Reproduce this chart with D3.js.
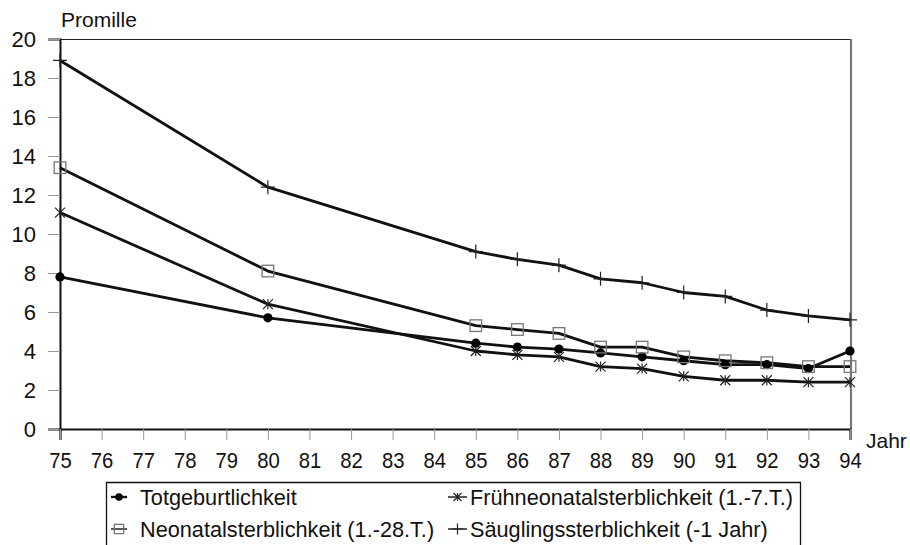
<!DOCTYPE html>
<html>
<head>
<meta charset="utf-8">
<script src="https://cdn.jsdelivr.net/npm/d3@7"></script>
<style>
  html, body { margin: 0; padding: 0; background: #fff; }
  svg { display: block; font-family: "Liberation Sans", Arial, sans-serif; }
</style>
</head>
<body>
<svg id="chart" width="910" height="545"></svg>
<script>
// Jahre (Achsenbeschriftung) und Beobachtungsjahre
const yearTicks = d3.range(75, 95);
const years = [75, 80, 85, 86, 87, 88, 89, 90, 91, 92, 93, 94];
const yTicks = [0, 2, 4, 6, 8, 10, 12, 14, 16, 18, 20];

// Raten in Promille
const totgeburt  = [7.8, 5.7, 4.4, 4.2, 4.1, 3.9, 3.7, 3.5, 3.3, 3.3, 3.1, 4.0];
const fruehneo   = [11.1, 6.4, 4.0, 3.8, 3.7, 3.2, 3.1, 2.7, 2.5, 2.5, 2.4, 2.4];
const neonatal   = [13.4, 8.1, 5.3, 5.1, 4.9, 4.2, 4.2, 3.7, 3.5, 3.4, 3.2, 3.2];
const saeugling  = [18.9, 12.4, 9.1, 8.7, 8.4, 7.7, 7.5, 7.0, 6.8, 6.1, 5.8, 5.6];

const seriesNames = [
  "Totgeburtlichkeit",
  "Frühneonatalsterblichkeit (1.-7.T.)",
  "Neonatalsterblichkeit (1.-28.T.)",
  "Säuglingssterblichkeit (-1 Jahr)"
];

const series = [
  { name: seriesNames[0], values: totgeburt, marker: "dot" },
  { name: seriesNames[1], values: fruehneo, marker: "star" },
  { name: seriesNames[2], values: neonatal, marker: "square" },
  { name: seriesNames[3], values: saeugling, marker: "plus" }
];

const svg = d3.select("#chart");
const plot = { left: 60, top: 39, right: 851, bottom: 429 };

const x = d3.scaleLinear().domain([75, 94]).range([plot.left, plot.right - 1]);
const y = d3.scaleLinear().domain([0, 20]).range([plot.bottom, plot.top]);

// Rahmen des Diagrammbereichs (oben und rechts)
svg.append("line")
  .attr("x1", plot.left).attr("x2", plot.right)
  .attr("y1", plot.top + 0.5).attr("y2", plot.top + 0.5)
  .attr("stroke", "#222").attr("stroke-width", 1.2);
svg.append("line")
  .attr("x1", plot.right).attr("x2", plot.right)
  .attr("y1", plot.top).attr("y2", plot.bottom)
  .attr("stroke", "#777").attr("stroke-width", 2.2);

// Y-Achse
const yAxis = svg.append("g")
  .attr("transform", `translate(${plot.left},0)`)
  .call(d3.axisLeft(y).tickValues(yTicks).tickSize(12).tickPadding(12).tickFormat(d3.format("d")));
yAxis.select(".domain").attr("stroke", "#111").attr("stroke-width", 2);
yAxis.selectAll(".tick line").attr("stroke", "#999").attr("stroke-width", 1);
yAxis.selectAll(".tick text")
  .attr("font-size", 22).attr("fill", "#111")
  .attr("font-family", "Liberation Sans, Arial, sans-serif");

// X-Achse
const xAxis = svg.append("g")
  .attr("transform", `translate(0,${plot.bottom})`)
  .call(d3.axisBottom(x).tickValues(yearTicks).tickSize(11).tickPadding(12).tickFormat(d3.format("d")));
xAxis.select(".domain").attr("stroke", "#111").attr("stroke-width", 2.2);
xAxis.selectAll(".tick line").attr("stroke", "#999").attr("stroke-width", 1);
xAxis.selectAll(".tick text")
  .attr("font-size", 22.5).attr("fill", "#111")
  .attr("font-family", "Liberation Sans, Arial, sans-serif")
  .attr("transform", "scale(0.9,1)");

// Achsentitel
svg.append("text").attr("x", 61).attr("y", 27)
  .attr("font-size", 21).attr("fill", "#111").text("Promille");
svg.append("text").attr("x", 866).attr("y", 448)
  .attr("font-size", 21).attr("fill", "#111").text("Jahr");

// Linien
const line = d3.line()
  .x((d, i) => x(years[i]))
  .y(d => y(d))
  .curve(d3.curveLinear);

const lines = svg.append("g");
series.forEach(s => {
  lines.append("path")
    .datum(s.values)
    .attr("d", line)
    .attr("fill", "none")
    .attr("stroke", "#111")
    .attr("stroke-width", 2.8)
    .attr("stroke-linejoin", "round");
});

// Marker
function drawMarker(g, type, cx, cy, scale) {
  const k = scale || 1;
  if (type === "dot") {
    g.append("circle").attr("cx", cx).attr("cy", cy).attr("r", 4.6 * k).attr("fill", "#000");
  } else if (type === "square") {
    const h = 5.8 * k;
    g.append("rect").attr("x", cx - h).attr("y", cy - h)
      .attr("width", 2 * h).attr("height", 2 * h)
      .attr("fill", "none").attr("stroke", "#777").attr("stroke-width", 1.3);
  } else if (type === "plus") {
    const h = 7 * k;
    g.append("path")
      .attr("d", `M${cx - h},${cy}H${cx + h}M${cx},${cy - h}V${cy + h}`)
      .attr("stroke", "#222").attr("stroke-width", 1.2).attr("fill", "none");
  } else if (type === "star") {
    const h = 5 * k;
    g.append("path")
      .attr("d", `M${cx - h},${cy - h}L${cx + h},${cy + h}M${cx - h},${cy + h}L${cx + h},${cy - h}M${cx},${cy - h}V${cy + h}`)
      .attr("stroke", "#222").attr("stroke-width", 1.2).attr("fill", "none");
  }
}

const markers = svg.append("g");
series.forEach(s => {
  s.values.forEach((v, i) => drawMarker(markers, s.marker, x(years[i]), y(v), 1));
});

// Legende
const legend = svg.append("g");
legend.append("path")
  .attr("d", "M106.5,548V482.5H800.5V548")
  .attr("fill", "none").attr("stroke", "#111").attr("stroke-width", 1.3);

const legendItems = [
  { s: series[0], lx: 111, tx: 140, y: 497 },
  { s: series[1], lx: 448, tx: 470, y: 497 },
  { s: series[2], lx: 111, tx: 140, y: 529 },
  { s: series[3], lx: 448, tx: 470, y: 529 }
];
legendItems.forEach(it => {
  const w = it.s.marker === "dot" || it.s.marker === "square" ? 16 : 19;
  legend.append("line")
    .attr("x1", it.lx).attr("x2", it.lx + w)
    .attr("y1", it.y).attr("y2", it.y)
    .attr("stroke", "#111").attr("stroke-width", it.s.marker === "dot" ? 2.4 : 1.4);
  drawMarker(legend, it.s.marker, it.lx + w / 2, it.y, 0.8);
  legend.append("text")
    .attr("x", it.tx).attr("y", it.y + 7.5)
    .attr("font-size", 21.7).attr("fill", "#111")
    .text(it.s.name);
});
</script>
</body>
</html>
